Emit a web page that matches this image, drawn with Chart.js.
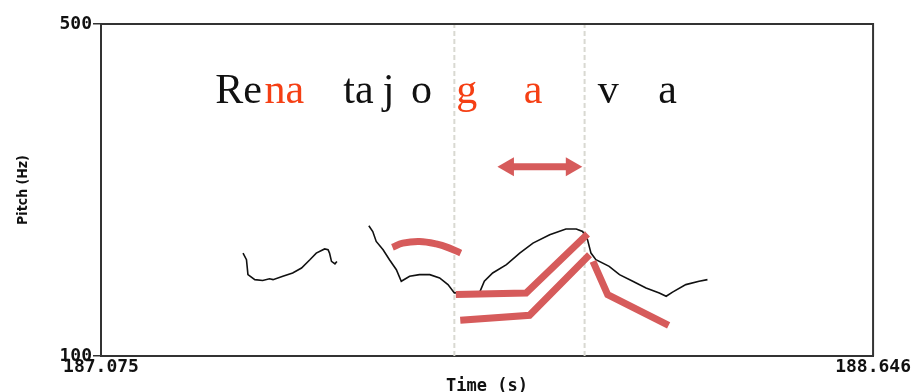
<!DOCTYPE html>
<html>
<head>
<meta charset="utf-8">
<script src="https://cdn.jsdelivr.net/npm/chart.js@4"></script>
<style>
  html, body { margin: 0; padding: 0; background: #fff; }
  #wrap { width: 912px; height: 392px; }
</style>
</head>
<body>
<div id="wrap"><canvas id="pitch"></canvas></div>
<script>
// time window and pitch range (s, Hz)
const timeMin = 187.075;
const timeMax = 188.646;
const pitchMin = 100;
const pitchMax = 500;

// measured F0 contour, two voiced stretches
const voiced1Time = [187.364, 187.371, 187.374, 187.388, 187.404, 187.418, 187.425, 187.445, 187.465, 187.483, 187.500, 187.513, 187.530, 187.537, 187.540, 187.544, 187.551, 187.555];
const voiced1Hz   = [224, 216, 198, 192, 191, 193, 192, 196, 200, 206, 216, 224, 229, 228, 224, 214, 211, 214];

const voiced2Time = [187.620, 187.628, 187.635, 187.649, 187.662, 187.676, 187.686, 187.703, 187.723, 187.744, 187.764, 187.781, 187.794, 187.845, 187.855, 187.872, 187.900, 187.927, 187.954, 187.988, 188.021, 188.042, 188.055, 188.065, 188.072, 188.082, 188.109, 188.130, 188.157, 188.184, 188.211, 188.225, 188.238, 188.265, 188.292, 188.309];
const voiced2Hz   = [257, 250, 238, 228, 216, 204, 190, 196, 198, 198, 194, 186, 176, 176, 190, 200, 210, 224, 236, 246, 253, 253, 250, 240, 224, 216, 208, 198, 190, 182, 176, 172, 177, 186, 190, 192];

// stylised contours
const hatTime = [187.668, 187.689, 187.723, 187.757, 187.784, 187.807];
const hatHz   = [231, 236, 238, 235, 230, 224];

const riseHighTime = [187.797, 187.940, 188.065];
const riseHighHz   = [174, 176, 247];

const riseLowTime = [187.806, 187.947, 188.069];
const riseLowHz   = [143, 149, 222];

const fallTime = [188.076, 188.106, 188.230];
const fallHz   = [214, 174, 137];

// shift arrow between the two boundaries
const arrowTime = [187.904, 188.032];
const arrowHz   = [328, 328];

// syllable boundaries
const boundaryTime = [187.794, 188.059];

// segment labels across the top
const segText = ['Re', 'na', 'ta', 'j', 'o', 'g', 'a', 'v', 'a'];
const segTime = [187.355, 187.448, 187.599, 187.660, 187.727, 187.819, 187.954, 188.107, 188.228];
const segHighlight = [1, 5, 6];
const segHz = 405;

const red = '#d65b5b';
const zip = (ts, vs) => ts.map((t, i) => ({ x: t, y: vs[i] }));

function redLine(ts, vs, tension) {
    return {
        data: zip(ts, vs),
        borderColor: red,
        borderWidth: 7,
        borderCapStyle: 'butt',
        borderJoinStyle: 'miter',
        pointRadius: 0,
        tension: tension || 0
    };
}

function contour(ts, vs) {
    return {
        data: zip(ts, vs),
        borderColor: '#111',
        borderWidth: 1.6,
        pointRadius: 0,
        tension: 0
    };
}

const datasets = [
    redLine(hatTime, hatHz, 0.4),
    redLine(riseHighTime, riseHighHz),
    redLine(riseLowTime, riseLowHz),
    redLine(fallTime, fallHz),
    {
        data: zip(arrowTime, arrowHz),
        borderColor: red,
        borderWidth: 7,
        pointStyle: 'triangle',
        pointRadius: 11,
        pointRotation: [270, 90],
        pointBackgroundColor: red,
        pointBorderWidth: 0
    },
    contour(voiced1Time, voiced1Hz),
    contour(voiced2Time, voiced2Hz)
];

boundaryTime.forEach(t => {
    datasets.push({
        data: [{ x: t, y: pitchMin }, { x: t, y: pitchMax }],
        borderColor: '#d9d9d2',
        borderWidth: 2,
        borderDash: [5, 3],
        pointRadius: 0
    });
});

// box round the plot and the segment text
const framePlugin = {
    id: 'frame',
    afterDraw(chart) {
        const { ctx, chartArea: a, scales } = chart;
        ctx.save();
        ctx.strokeStyle = '#333';
        ctx.lineWidth = 2;
        ctx.beginPath();
        ctx.moveTo(a.left, a.top);
        ctx.lineTo(a.right, a.top);
        ctx.lineTo(a.right, a.bottom);
        ctx.stroke();

        ctx.font = '42px "Liberation Serif", "Times New Roman", serif';
        ctx.textAlign = 'center';
        ctx.textBaseline = 'alphabetic';
        const y = scales.y.getPixelForValue(segHz);
        segText.forEach((s, i) => {
            ctx.fillStyle = segHighlight.includes(i) ? '#f53f14' : '#111';
            ctx.fillText(s, scales.x.getPixelForValue(segTime[i]), y);
        });
        ctx.restore();
    }
};

const tickFont = { family: '"DejaVu Sans Mono", monospace', size: 18, weight: 'bold' };

new Chart(document.getElementById('pitch'), {
    type: 'line',
    data: { datasets },
    options: {
        responsive: true,
        maintainAspectRatio: false,
        animation: false,
        layout: { padding: { top: 24, right: 38, bottom: 0, left: 0 } },
        plugins: { legend: { display: false }, tooltip: { enabled: false } },
        scales: {
            x: {
                type: 'linear',
                min: timeMin,
                max: timeMax,
                afterBuildTicks: s => { s.ticks = [{ value: timeMin }, { value: timeMax }]; },
                afterFit: s => { s.height = 36; },
                ticks: {
                    color: '#111',
                    font: tickFont,
                    padding: 1,
                    maxRotation: 0,
                    callback: v => v.toFixed(3)
                },
                grid: { display: true, drawOnChartArea: false, drawTicks: false },
                border: { display: true, color: '#333', width: 2 },
                title: {
                    display: true,
                    text: 'Time (s)',
                    color: '#111',
                    font: { family: '"DejaVu Sans Mono", monospace', size: 17, weight: 'bold', lineHeight: 1 },
                    padding: { top: 0, bottom: -3 }
                }
            },
            y: {
                type: 'linear',
                min: pitchMin,
                max: pitchMax,
                afterBuildTicks: s => { s.ticks = [{ value: pitchMin }, { value: pitchMax }]; },
                afterFit: s => { s.width = 101; },
                ticks: { color: '#111', font: tickFont, padding: 1 },
                grid: { display: true, drawOnChartArea: false, drawTicks: true, tickLength: 8, color: '#333', lineWidth: 1.5 },
                border: { display: true, color: '#333', width: 2 },
                title: {
                    display: true,
                    text: 'Pitch (Hz)',
                    color: '#111',
                    font: { family: '"DejaVu Sans Condensed", "DejaVu Sans", sans-serif', size: 14, weight: 'bold', lineHeight: 1 },
                    padding: { top: 16, bottom: 0 }
                }
            }
        }
    },
    plugins: [framePlugin]
});
</script>
</body>
</html>
